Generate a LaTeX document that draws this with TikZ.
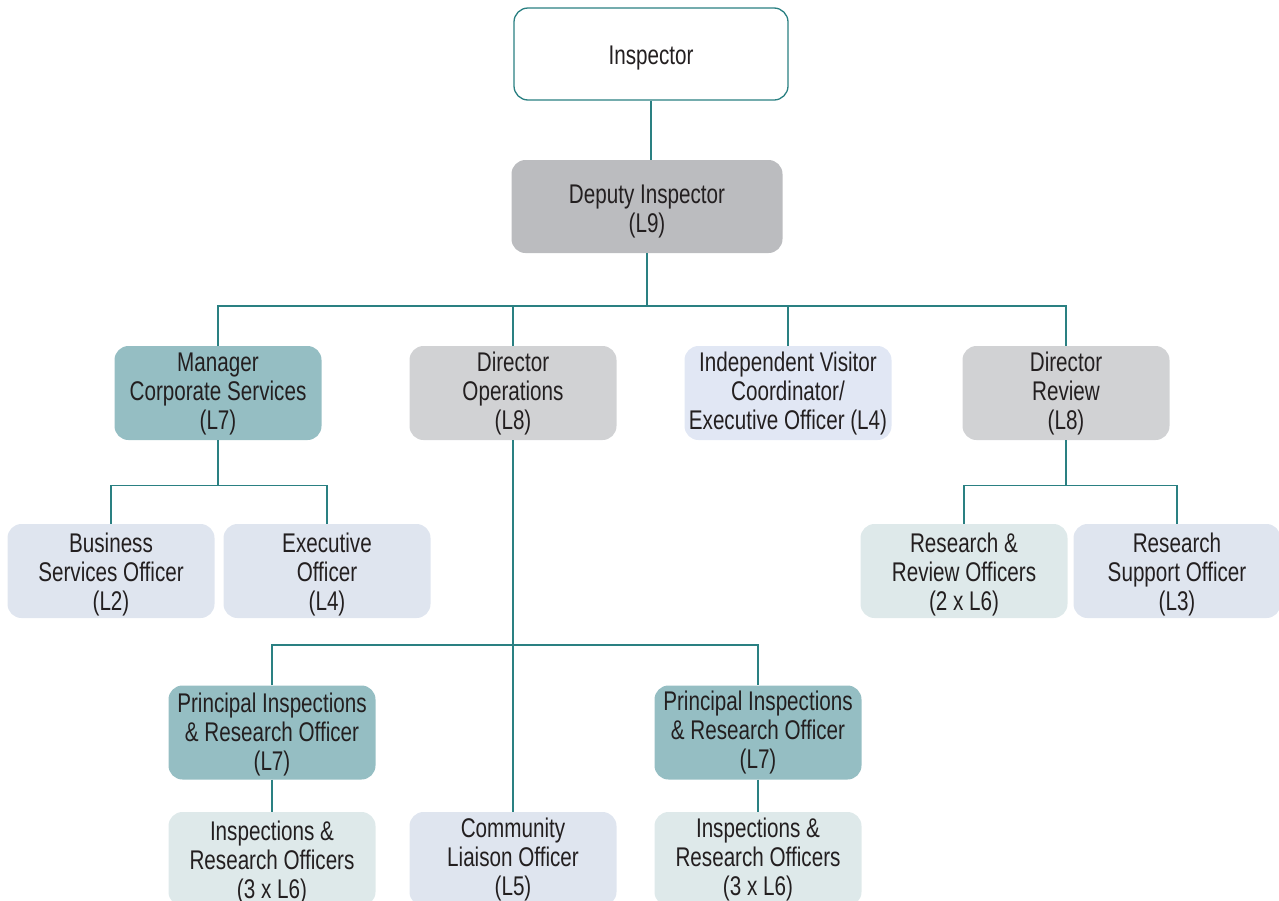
\documentclass[tikz,border=0pt]{standalone}
\usepackage{fontspec}
\setmainfont[FakeStretch=0.765]{Liberation Sans}
\definecolor{linec}{HTML}{2A8082}
\definecolor{txt}{HTML}{231F20}
\definecolor{dgray}{HTML}{BBBCBF}
\definecolor{lgray}{HTML}{D1D2D4}
\definecolor{tealf}{HTML}{95BEC3}
\definecolor{lblue}{HTML}{DFE5EF}
\definecolor{lteal}{HTML}{DEE9EA}
\definecolor{ivblue}{HTML}{E1E7F4}
\newcommand\tx[2][4pt]{\raisebox{-#1}[\height][\depth]{\begin{tabular}{@{}c@{}}#2\end{tabular}}}
\begin{document}
\begin{tikzpicture}[x=1pt,y=-1pt,
  box/.style={rounded corners=14pt, minimum width=207pt, minimum height=94pt, align=center,
    font=\fontsize{27}{29}\selectfont, text=txt, inner sep=2pt},
  conn/.style={draw=linec, line width=1.3pt}]
\useasboundingbox (0,0) rectangle (1279,900);
\clip (0,0) rectangle (1279,900);
\node[box, fill=white, draw=linec, line width=1.3pt, minimum width=274pt, minimum height=92pt] (ins) at (651,54) {\tx[5pt]{Inspector}};
\node[box, fill=dgray, minimum width=271pt, minimum height=93pt] (dep) at (647,206.5) {\tx[6pt]{Deputy Inspector\\(L9)}};
\node[box, fill=tealf] (mcs) at (218,393) {\tx[2pt]{Manager\\Corporate Services\\(L7)}};
\node[box, fill=lgray] (do) at (513,393) {\tx[2pt]{Director\\Operations\\(L8)}};
\node[box, fill=ivblue] (iv) at (788,393) {\tx[2pt]{Independent Visitor\\Coordinator/\\Executive Officer (L4)}};
\node[box, fill=lgray] (dr) at (1066,393) {\tx[2pt]{Director\\Review\\(L8)}};
\node[box, fill=lblue] (bso) at (111,571) {\tx[5pt]{Business\\Services Officer\\(L2)}};
\node[box, fill=lblue] (eo) at (327,571) {\tx[5pt]{Executive\\Officer\\(L4)}};
\node[box, fill=lteal] (rr) at (964,571) {\tx[5pt]{Research \&\\Review Officers\\(2 x L6)}};
\node[box, fill=lblue] (rs) at (1177,571) {\tx[5pt]{Research\\Support Officer\\(L3)}};
\node[box, fill=tealf] (pl) at (272,732.5) {\tx[3pt]{Principal Inspections\\\& Research Officer\\(L7)}};
\node[box, fill=tealf] (pr) at (758,732.5) {\tx[1pt]{Principal Inspections\\\& Research Officer\\(L7)}};
\node[box, fill=lteal] (il) at (272,859) {\tx[5pt]{Inspections \&\\Research Officers\\(3 x L6)}};
\node[box, fill=lblue] (cl) at (513,859) {\tx[2pt]{Community\\Liaison Officer\\(L5)}};
\node[box, fill=lteal] (ir) at (758,859) {\tx[2pt]{Inspections \&\\Research Officers\\(3 x L6)}};
\coordinate (topbus) at (649,306);
\coordinate (opsbus) at (513,645);
\draw[conn] (ins.south) -- (ins.south |- dep.north);
\draw[conn] (dep.south) -- (dep.south |- topbus);
\draw[conn] (mcs.north) |- (topbus) -| (dr.north);
\draw[conn] (do.north) -- (do.north |- topbus);
\draw[conn] (iv.north) -- (iv.north |- topbus);
\draw[conn] (mcs.south) -- ++(0,45) -| (bso.north);
\draw[conn] (mcs.south) ++(0,45) -| (eo.north);
\draw[conn] (dr.south) -- ++(0,45) -| (rr.north);
\draw[conn] (dr.south) ++(0,45) -| (rs.north);
\draw[conn] (do.south) -- (cl.north);
\draw[conn] (pl.north) |- (opsbus) -| (pr.north);
\draw[conn] (pl.south) -- (il.north);
\draw[conn] (pr.south) -- (ir.north);
\end{tikzpicture}
\end{document}
